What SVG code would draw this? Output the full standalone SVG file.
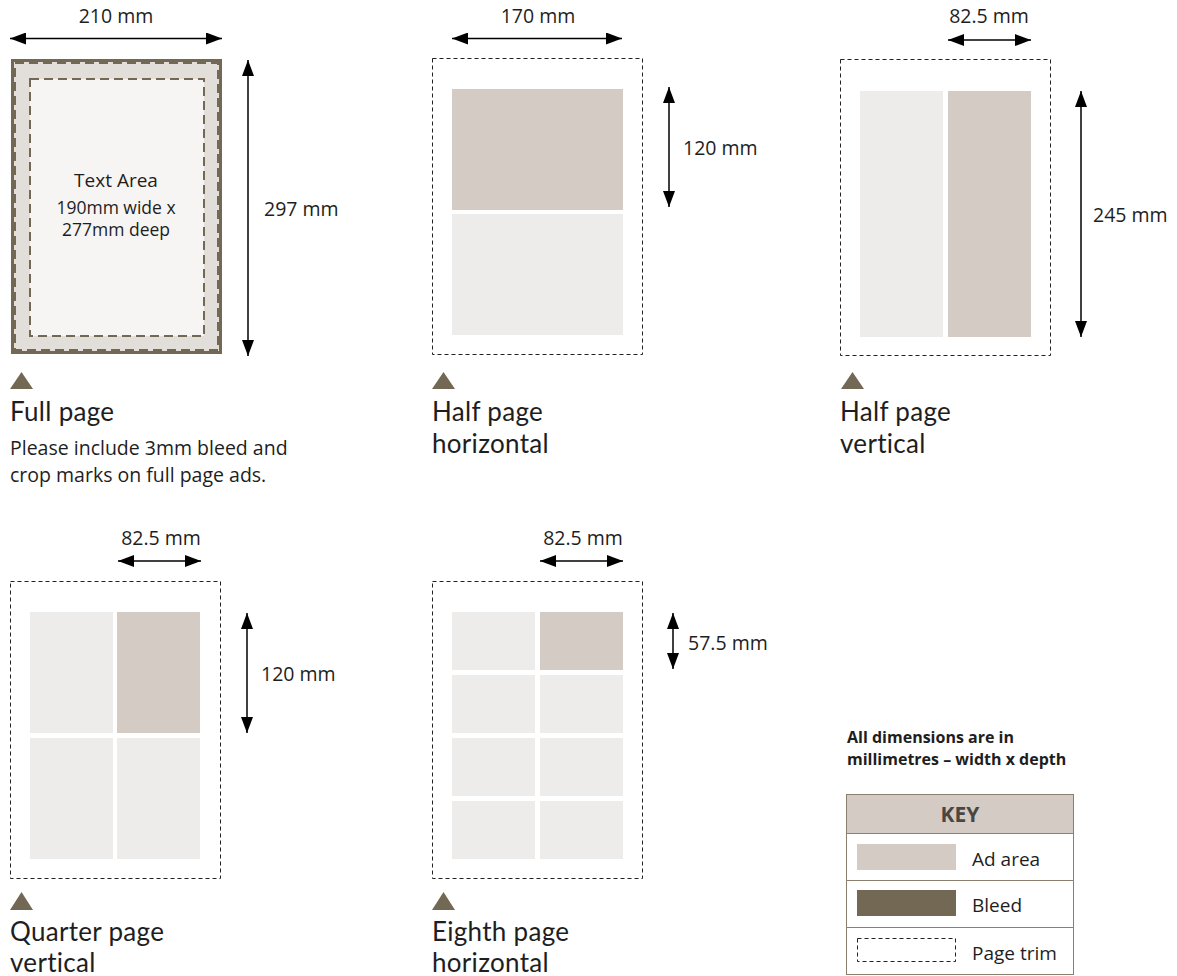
<svg xmlns="http://www.w3.org/2000/svg" width="1177" height="976" viewBox="0 0 1177 976">
<defs>
<style>
text{font-family:"Open Sans","Noto Sans","Liberation Sans",sans-serif;fill:#1e1e1e}
.dim{font-size:19.5px}
.title{font-family:Lato,"Open Sans",sans-serif;font-size:26px;letter-spacing:0.3px}
.note{font-size:19.5px}
.ta{font-size:19px}
.ta2{font-size:17.5px}
.trim{fill:#fff;stroke:#222;stroke-width:1;stroke-dasharray:4 3}
.ad{fill:#d3cbc4}
.off{fill:#edecea}
.tri{fill:#736853}
.arr{stroke:#000;stroke-width:1.5;fill:none;marker-start:url(#ah);marker-end:url(#ah)}
.key{font-size:19px}
.bold{font-weight:700;font-size:16px}
</style>
<marker id="ah" viewBox="0 0 16 12" refX="16" refY="6" markerWidth="16" markerHeight="12" markerUnits="userSpaceOnUse" orient="auto-start-reverse">
<path d="M0,0 L16,6 L0,12 Z" fill="#000"/>
</marker>
</defs>
<rect width="1177" height="976" fill="#fff"/>

<g id="full-page">
<rect x="11" y="59" width="211" height="295" fill="#736853"/>
<rect x="14" y="62" width="205" height="289" fill="#e2dfda"/>
<rect x="15" y="63" width="203" height="287" fill="none" stroke="#736853" stroke-width="2" stroke-dasharray="9 5"/>
<rect x="30" y="79" width="174" height="257" fill="#f6f5f3" stroke="#736853" stroke-width="2" stroke-dasharray="9 5"/>
<text class="ta" x="116" y="187" text-anchor="middle">Text Area</text>
<text class="ta2" text-anchor="middle"><tspan x="116" y="214">190mm wide x</tspan><tspan x="116" y="236">277mm deep</tspan></text>
<polygon class="tri" points="10,389 21.5,372 33,389"/>
<text class="title" x="10" y="421">Full page</text>
<text class="note"><tspan x="10" y="455">Please include 3mm bleed and</tspan><tspan x="10" y="482">crop marks on full page ads.</tspan></text>
</g>

<g id="half-page-horizontal">
<rect class="trim" x="432.5" y="58.5" width="210" height="296"/>
<rect class="ad" x="452" y="89" width="171" height="121"/>
<rect class="off" x="452" y="214" width="171" height="121"/>
<polygon class="tri" points="432,389 443.5,372 455,389"/>
<text class="title"><tspan x="432" y="421">Half page</tspan><tspan x="432" y="453">horizontal</tspan></text>
</g>

<g id="half-page-vertical">
<rect class="trim" x="840.5" y="59.5" width="210" height="296"/>
<rect class="off" x="860" y="91" width="83" height="246"/>
<rect class="ad" x="948" y="91" width="83" height="246"/>
<polygon class="tri" points="841,389 852.5,372 864,389"/>
<text class="title"><tspan x="840" y="421">Half page</tspan><tspan x="840" y="453">vertical</tspan></text>
</g>

<g id="quarter-page-vertical">
<rect class="trim" x="10.5" y="581.5" width="210" height="297"/>
<rect class="off" x="30" y="612" width="83" height="121"/>
<rect class="ad" x="117" y="612" width="83" height="121"/>
<rect class="off" x="30" y="738" width="83" height="121"/>
<rect class="off" x="117" y="738" width="83" height="121"/>
<polygon class="tri" points="10,910 21.5,892 33,910"/>
<text class="title"><tspan x="10" y="941">Quarter page</tspan><tspan x="10" y="972">vertical</tspan></text>
</g>

<g id="eighth-page-horizontal">
<rect class="trim" x="432.5" y="581.5" width="210" height="297"/>
<rect class="off" x="452" y="612" width="83" height="58"/>
<rect class="ad" x="540" y="612" width="83" height="58"/>
<rect class="off" x="452" y="675" width="83" height="58"/>
<rect class="off" x="540" y="675" width="83" height="58"/>
<rect class="off" x="452" y="738" width="83" height="58"/>
<rect class="off" x="540" y="738" width="83" height="58"/>
<rect class="off" x="452" y="801" width="83" height="58"/>
<rect class="off" x="540" y="801" width="83" height="58"/>
<polygon class="tri" points="432,910 443.5,892 455,910"/>
<text class="title"><tspan x="432" y="941">Eighth page</tspan><tspan x="432" y="972">horizontal</tspan></text>
</g>

<g id="connectors">
<line class="arr" x1="10" y1="38.5" x2="222" y2="38.5"/>
<line class="arr" x1="248" y1="60" x2="248" y2="356"/>
<line class="arr" x1="452" y1="38.5" x2="622" y2="38.5"/>
<line class="arr" x1="669" y1="87" x2="669" y2="207"/>
<line class="arr" x1="948" y1="40" x2="1031" y2="40"/>
<line class="arr" x1="1081" y1="91" x2="1081" y2="337"/>
<line class="arr" x1="118" y1="561" x2="201" y2="561"/>
<line class="arr" x1="247" y1="613" x2="247" y2="733"/>
<line class="arr" x1="540" y1="561" x2="623" y2="561"/>
<line class="arr" x1="673" y1="613" x2="673" y2="669"/>
</g>

<g id="dimension-labels">
<text class="dim" x="116" y="23" text-anchor="middle">210 mm</text>
<text class="dim" x="264" y="216">297 mm</text>
<text class="dim" x="538" y="23" text-anchor="middle">170 mm</text>
<text class="dim" x="683" y="155">120 mm</text>
<text class="dim" x="989" y="23" text-anchor="middle">82.5 mm</text>
<text class="dim" x="1093" y="222">245 mm</text>
<text class="dim" x="161" y="545" text-anchor="middle">82.5 mm</text>
<text class="dim" x="261" y="681">120 mm</text>
<text class="dim" x="583" y="545" text-anchor="middle">82.5 mm</text>
<text class="dim" x="688" y="650">57.5 mm</text>
</g>

<g id="key">
<text class="bold"><tspan x="847" y="743">All dimensions are in</tspan><tspan x="847" y="765">millimetres – width x depth</tspan></text>
<rect x="846.5" y="794.5" width="227" height="180" fill="#fff" stroke="#8a806f" stroke-width="1"/>
<rect x="847" y="795" width="226" height="38" fill="#d3cbc4"/>
<line x1="846.5" y1="833.5" x2="1073.5" y2="833.5" stroke="#8a806f"/>
<line x1="846.5" y1="880.5" x2="1073.5" y2="880.5" stroke="#8a806f"/>
<line x1="846.5" y1="927.5" x2="1073.5" y2="927.5" stroke="#8a806f"/>
<text x="960" y="822" text-anchor="middle" style="font-weight:700;font-size:21px;fill:#4a4642">KEY</text>
<rect class="ad" x="857" y="844" width="99" height="26"/>
<text class="key" x="972" y="866">Ad area</text>
<rect x="857" y="890" width="99" height="26" fill="#736853"/>
<text class="key" x="972" y="912">Bleed</text>
<rect class="trim" x="857.5" y="938.5" width="98" height="23"/>
<text class="key" x="972" y="960">Page trim</text>
</g>
</svg>
